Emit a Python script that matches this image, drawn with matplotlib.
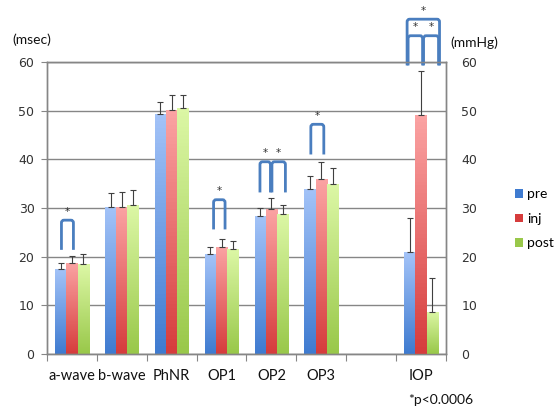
import numpy as np
import matplotlib
matplotlib.use("Agg")
import matplotlib.pyplot as plt
from matplotlib.patches import Patch, PathPatch
from matplotlib.path import Path
from matplotlib.colors import LinearSegmentedColormap

# ERG latencies (msec) and IOP (mmHg), mean and upper SD
categories = ["a-wave", "b-wave", "PhNR", "OP1", "OP2", "OP3", "IOP"]
series = ["pre", "inj", "post"]
pre = [17.5, 30.3, 49.4, 20.5, 28.3, 34.0, 20.9]
inj = [18.8, 30.3, 50.1, 22.0, 29.7, 35.9, 49.2]
post = [18.4, 30.6, 50.5, 21.5, 28.8, 34.9, 8.7]
pre_sd = [1.1, 2.7, 2.3, 1.4, 1.6, 2.6, 7.0]
inj_sd = [1.4, 3.0, 3.2, 1.7, 2.4, 3.5, 8.9]
post_sd = [2.1, 3.1, 2.8, 1.8, 1.8, 3.3, 7.0]
yticks = [0, 10, 20, 30, 40, 50, 60]

# significance brackets: category index, x offsets of legs, leg bottom, top
brackets = [
    (0, [-0.21, 0.03], 21.4, 27.5),
    (3, [-0.16, 0.07], 25.6, 31.7),
    (4, [-0.23, -0.02], 33.2, 39.5),
    (4, [0.01, 0.28], 33.2, 39.5),
    (5, [-0.21, 0.05], 41.0, 47.2),
    (6, [-0.26, 0.03], 59.3, 65.4),
    (6, [0.05, 0.35], 59.3, 65.4),
    (6, [-0.28, 0.37], 59.3, 68.8),
]

grads = {
    "pre": ("#3f7bd0", "#a3c3f8"),
    "inj": ("#d63c3c", "#fba3a3"),
    "post": ("#99c84a", "#dcf7a5"),
}
bracket_col = "#4a7ebf"
grid_col = "#868686"
txt_col = "#333333"

fig = plt.figure(figsize=(5.58, 4.12), dpi=100)
ax = fig.add_axes([0.0842, 0.1408, 0.7151, 0.7087])
ax2 = ax.twinx()

slots = np.arange(len(categories)) + 0.5
slots[-1] += 1  # empty slot before IOP
w = 0.225
offsets = [-w, 0, w]

grad = np.linspace(0, 1, 64).reshape(-1, 1)

for s_i, (name, vals, sds) in enumerate(zip(series, [pre, inj, post], [pre_sd, inj_sd, post_sd])):
    cmap = LinearSegmentedColormap.from_list(name, grads[name])
    for c_i, (v, sd) in enumerate(zip(vals, sds)):
        a = ax2 if categories[c_i] == "IOP" else ax
        x = slots[c_i] + offsets[s_i]
        bar = a.bar(x, v, width=w, color="none", edgecolor="none", zorder=2)[0]
        im = a.imshow(grad, cmap=cmap, aspect="auto", origin="lower",
                      extent=[x - w / 2, x + w / 2, 0, v], zorder=2)
        im.set_clip_path(bar)
        a.errorbar(x, v, yerr=[[0], [sd]], fmt="none", ecolor="#404040",
                   elinewidth=0.8, capsize=2.0, capthick=0.8, zorder=3)

ax.set_xlim(0, 8)
ax.set_ylim(0, 60)
ax2.set_ylim(0, 60)

for a in (ax, ax2):
    a.set_yticks(yticks)
    for sp in a.spines.values():
        sp.set_color(grid_col)
        sp.set_linewidth(1)
ax.yaxis.grid(True, color=grid_col, linewidth=1)
ax.set_axisbelow(True)
ax.tick_params(axis="y", length=4, color=grid_col, labelsize=9, labelcolor=txt_col, pad=5)
ax2.tick_params(axis="y", length=0, labelsize=9, labelcolor=txt_col, pad=11)

ax.set_xticks(np.arange(9), minor=False)
ax.set_xticklabels([])
ax.tick_params(axis="x", which="major", length=5, color=grid_col)
ax.set_xticks(slots, minor=True)
ax.set_xticklabels(categories, minor=True, fontsize=10.5, family="Lato", color="#111111")
ax.tick_params(axis="x", which="minor", length=0, pad=11)

# rounded-corner brackets
rx, ry = 0.05, 0.55
for ci, xs, y0, y1 in brackets:
    xa, xb = slots[ci] + xs[0], slots[ci] + xs[1]
    verts = [(xa, y0), (xa, y1 - ry), (xa, y1), (xa + rx, y1),
             (xb - rx, y1), (xb, y1), (xb, y1 - ry), (xb, y0)]
    codes = [Path.MOVETO, Path.LINETO, Path.CURVE3, Path.CURVE3,
             Path.LINETO, Path.CURVE3, Path.CURVE3, Path.LINETO]
    ax.add_patch(PathPatch(Path(verts, codes), facecolor="none", edgecolor=bracket_col,
                           lw=2.0, clip_on=False, zorder=4, capstyle="butt"))
    ax.text((xa + xb) / 2, y1 + 0.7, "*", ha="center", va="bottom",
            fontsize=7.5, color=txt_col, clip_on=False)

fig.text(0.022, 0.893, "(msec)", fontsize=10, family="Lato", color="#111111")
fig.text(0.808, 0.886, "(mmHg)", fontsize=10, family="Lato", color="#111111")
fig.text(0.731, 0.02, "*p<0.0006", fontsize=10, family="Lato", color="#111111")

handles = [Patch(facecolor=grads[n][0], edgecolor="none") for n in series]
fig.legend(handles, series, loc="upper left", bbox_to_anchor=(0.9, 0.573),
           frameon=False, handlelength=0.6, handleheight=0.6, handletextpad=0.3,
           labelspacing=0.9, prop={"family": "Lato", "size": 10})

fig.savefig("out.png", dpi=100)
